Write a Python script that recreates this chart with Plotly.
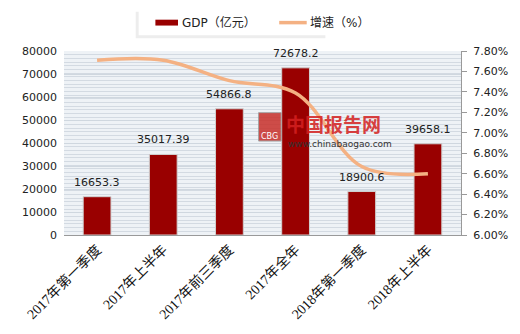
import plotly.graph_objects as go

categories = ["2017年第一季度", "2017年上半年", "2017年前三季度", "2017年全年", "2018年第一季度", "2018年上半年"]
gdp = [16653.3, 35017.39, 54866.8, 72678.2, 18900.6, 39658.1]
gdp_labels = ["16653.3", "35017.39", "54866.8", "72678.2", "18900.6", "39658.1"]
growth = [7.71, 7.71, 7.51, 7.39, 6.67, 6.60]
left_ticks = [0, 10000, 20000, 30000, 40000, 50000, 60000, 70000, 80000]
left_tick_text = ["0", "10000", "20000", "30000", "40000", "50000", "60000", "70000", "80000"]
right_ticks = [6.0, 6.2, 6.4, 6.6, 6.8, 7.0, 7.2, 7.4, 7.6, 7.8]
right_tick_text = ["6.00%", "6.20%", "6.40%", "6.60%", "6.80%", "7.00%", "7.20%", "7.40%", "7.60%", "7.80%"]
legend_names = ["GDP（亿元）", "增速（%）"]

BAR_COLOR = "#990000"
LINE_COLOR = "#f4b183"

fig = go.Figure()
fig.add_trace(go.Bar(
    x=categories, y=gdp, name=legend_names[0], showlegend=False,
    marker=dict(color=BAR_COLOR, line=dict(color="#d0d0d0", width=1)),
    width=0.42,
))
fig.add_trace(go.Scatter(
    x=categories, y=growth, name=legend_names[1], yaxis="y2", mode="lines", showlegend=False,
    line=dict(color=LINE_COLOR, width=3.5, shape="spline", smoothing=1.0),
))

# value labels above bars
for c, v, t in zip(categories, gdp, gdp_labels):
    fig.add_annotation(x=c, y=v, xref="x", yref="y", text=t, showarrow=False,
                       yanchor="bottom", yshift=6,
                       font=dict(family="DejaVu Sans", size=11, color="#222222"))

fig.update_layout(
    width=520, height=334,
    margin=dict(l=64, r=52, t=51, b=95),
    paper_bgcolor="white",
    plot_bgcolor="#eef2f6",
    showlegend=False,
    xaxis=dict(
        tickangle=-45,
        tickfont=dict(family="Liberation Serif, Noto Sans CJK SC", size=14, color="#111111"),
        showline=True, linecolor="#999999", linewidth=1,
        ticks="", showgrid=False,
    ),
    yaxis=dict(
        range=[0, 80000], tickvals=left_ticks, ticktext=left_tick_text,
        tickfont=dict(family="DejaVu Sans", size=11, color="#222222"),
        ticklabelstandoff=6,
        showgrid=True, gridcolor="#cfd7df", gridwidth=1,
        minor=dict(dtick=1600, showgrid=True, gridcolor="#d3dae2", gridwidth=1),
        zeroline=False, showline=False, ticks="",
    ),
    yaxis2=dict(
        range=[6.0, 7.8], tickvals=right_ticks, ticktext=right_tick_text,
        overlaying="y", side="right",
        tickfont=dict(family="DejaVu Sans", size=11, color="#222222"),
        ticklabelstandoff=4,
        showgrid=False, zeroline=False,
        showline=True, linecolor="#999999", linewidth=1,
        ticks="outside", ticklen=5, tickcolor="#999999",
    ),
)

# custom legend box with soft shadow
fig.add_shape(type="rect", xref="paper", yref="paper",
              x0=(137-64)/404, x1=(330-64)/404, y0=(239-38)/188, y1=(239-11)/188,
              fillcolor="#ededed", line=dict(width=0), layer="below")
fig.add_shape(type="rect", xref="paper", yref="paper",
              x0=(140-64)/404, x1=(400-64)/404, y0=(239-35)/188, y1=(239-7)/188,
              fillcolor="white", line=dict(width=0), layer="below")
fig.add_shape(type="rect", xref="paper", yref="paper",
              x0=(157-64)/404, x1=(180-64)/404, y0=(239-25)/188, y1=(239-19)/188,
              fillcolor=BAR_COLOR, line=dict(width=0))
fig.add_annotation(xref="paper", yref="paper", x=(182-64)/404, y=(239-22)/188,
                   xanchor="left", yanchor="middle", text=legend_names[0], showarrow=False,
                   font=dict(family="DejaVu Sans, Noto Sans CJK SC", size=12, color="#222222"))
fig.add_shape(type="line", xref="paper", yref="paper",
              x0=(283-64)/404, x1=(311-64)/404, y0=(239-22)/188, y1=(239-22)/188,
              line=dict(color=LINE_COLOR, width=3.5))
fig.add_annotation(xref="paper", yref="paper", x=(312-64)/404, y=(239-22)/188,
                   xanchor="left", yanchor="middle", text=legend_names[1], showarrow=False,
                   font=dict(family="DejaVu Sans, Noto Sans CJK SC", size=12, color="#222222"))

# watermark
fig.add_shape(type="rect", xref="paper", yref="paper",
              x0=(262-64)/404, x1=(285-64)/404, y0=(239-143)/188, y1=(239-114)/188,
              fillcolor="#c8302a", line=dict(color="#999999", width=1), opacity=0.85, layer="above")
fig.add_annotation(xref="paper", yref="paper", x=(273.5-64)/404, y=(239-138)/188,
                   text="CBG", showarrow=False,
                   font=dict(family="DejaVu Sans", size=8, color="white"))
fig.add_annotation(xref="paper", yref="paper", x=(288-64)/404, y=(239-125)/188,
                   xanchor="left", yanchor="middle", text="<b>中国报告网</b>", showarrow=False, opacity=0.85,
                   font=dict(family="Noto Sans CJK SC", size=19, color="#d42020"))
fig.add_annotation(xref="paper", yref="paper", x=(290-64)/404, y=(239-146)/188,
                   xanchor="left", yanchor="middle", text="www.chinabaogao.com", showarrow=False,
                   font=dict(family="DejaVu Sans", size=9, color="#333333"))

fig.write_html("out.html")
